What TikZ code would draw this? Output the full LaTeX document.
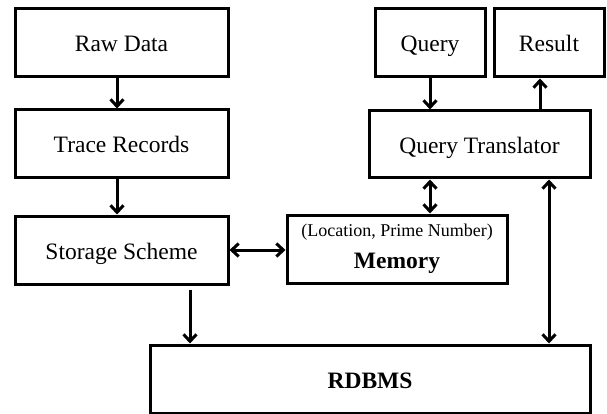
\documentclass[tikz,border=0pt]{standalone}
\usepackage{fontspec}
\setmainfont{Liberation Serif}
\usetikzlibrary{positioning,arrows.meta,calc}

\begin{document}
\begin{tikzpicture}[x=1pt, y=-1pt,
    font=\fontsize{23.5}{32}\selectfont,
    blk/.style={draw, line width=3pt, minimum height=68pt, inner sep=0pt, align=center},
    one/.style={blk, text height=18pt, text depth=0pt},
    arr/.style={line width=3pt, -{Straight Barb[length=7pt,width=13pt]}},
    darr/.style={line width=3pt, {Straight Barb[length=7pt,width=13pt]}-{Straight Barb[length=7pt,width=13pt]}}]
  \useasboundingbox (0,0) rectangle (607,414);
  % left column
  \node[one, minimum width=213pt] (raw) at (121.5,43) {Raw Data};
  \node[one, minimum width=213pt] (trace) at (121.5,144) {Trace Records};
  \node[one, minimum width=213pt] (storage) at (121.5,250) {Storage Scheme};
  % query side
  \node[one, minimum width=110pt] (query) at (430,43) {Query};
  \node[one, minimum width=110pt] (result) at (549,43) {Result};
  \node[one, minimum width=221pt, minimum height=67pt] (translator) at (479.5,144.5) {Query Translator};
  \node[blk, minimum width=220pt] (memory) at (397,249)
    {{\fontsize{18}{22}\selectfont (Location, Prime Number)}\\ \textbf{Memory}};
  \node[one, minimum width=440pt] (rdbms) at (370,379) {\textbf{RDBMS}};
  % connectors
  \coordinate (rt) at ([xshift=-4.5]raw.south);
  \draw[arr] (rt) -- (rt |- trace.north);
  \draw[arr] (rt |- trace.south) -- (rt |- storage.north);
  \draw[darr] (storage.east) -- (storage.east -| memory.west);
  \coordinate (sr) at ([xshift=68.5,yshift=-4]storage.south);
  \draw[arr] (sr) -- (sr |- rdbms.north);
  \draw[arr] (query.south) -- (query.south |- translator.north);
  \coordinate (rq) at ([xshift=-9]result.south);
  \draw[arr] (rq |- translator.north) -- (rq);
  \draw[darr] (translator.south -| query) -- (memory.north -| query);
  \draw[darr] (translator.south -| result) -- (rdbms.north -| result);
\end{tikzpicture}
\end{document}
